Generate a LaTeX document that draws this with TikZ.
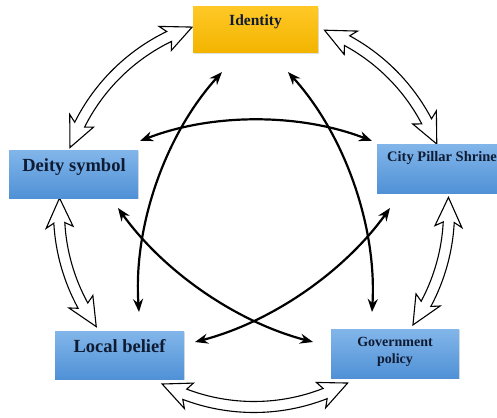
\documentclass[tikz,border=0pt]{standalone}
\usepackage{fontspec}
\setmainfont{Liberation Serif}
\usetikzlibrary{arrows.meta,shadows}
\definecolor{boxtop}{HTML}{82B6EA}
\definecolor{boxbot}{HTML}{5091D6}
\definecolor{idtop}{HTML}{FFC826}
\definecolor{idbot}{HTML}{F3B400}
\definecolor{txtcol}{HTML}{0F1B33}
\newcommand\harrow[2]{%
 \pgfmathsetmacro\hsg{sign(#2-#1)}%
 \pgfmathsetmacro\hba{#1+\hsg*8.6}%
 \pgfmathsetmacro\hna{#1+\hsg*7.3}%
 \pgfmathsetmacro\hbb{#2-\hsg*8.6}%
 \pgfmathsetmacro\hnb{#2-\hsg*7.3}%
 \draw[hollow] (#1:195) -- (\hba:208.5) -- (\hna:200.5) arc[start angle=\hna, end angle=\hnb, radius=200.5] -- (\hbb:208.5) -- (#2:195) -- (\hbb:181.5) -- (\hnb:189.5) arc[start angle=\hnb, end angle=\hna, radius=189.5] -- (\hba:181.5) -- cycle;}
\begin{document}
\begin{tikzpicture}[x=1pt,y=-1pt,
  boxbase/.style={rectangle, inner sep=0pt, drop shadow={opacity=0.25, shadow xshift=1pt, shadow yshift=-1.2pt}},
  bluebox/.style={boxbase, top color=boxtop, bottom color=boxbot},
  yellowbox/.style={boxbase, top color=idtop, bottom color=idbot},
  lbl/.style={font=\bfseries, text=txtcol, anchor=base, inner sep=0pt, align=center},
  blk/.style={line width=2.2pt, {Stealth[length=13pt,width=10pt]}-{Stealth[length=13pt,width=10pt]}},
  hollow/.style={draw=black, line width=1.1pt, fill=white, line join=miter}]
\useasboundingbox (0,0) rectangle (497,417);

% hollow block arrows on the outer circle
\begin{scope}[shift={(254,212)}]
 \harrow{-108.5}{-160.7}
 \harrow{-68.8}{-20.4}
 \harrow{184.1}{144}
 \harrow{-4.3}{35.4}
 \harrow{118.1}{61.3}
\end{scope}

% boxes
\node[yellowbox, minimum width=125pt, minimum height=46pt] (id) at (255.5,30) {};
\node[bluebox, minimum width=129pt, minimum height=48pt] (ds) at (73.5,174) {};
\node[bluebox, minimum width=120pt, minimum height=49pt] (cp) at (437,168.5) {};
\node[bluebox, minimum width=129pt, minimum height=48pt] (lb) at (119.5,355) {};
\node[bluebox, minimum width=128pt, minimum height=49pt] (gp) at (395,353.5) {};

% labels
\node[lbl, font=\bfseries\fontsize{15.5}{18}\selectfont] (idt) at (255.5,26) {Identity};
\node[lbl, font=\bfseries\fontsize{18.5}{21}\selectfont] (dst) at (74,171) {Deity symbol};
\node[lbl, font=\bfseries\fontsize{14.5}{17}\selectfont] (cpt) at (442,161) {City Pillar Shrine};
\node[lbl, font=\bfseries\fontsize{18.5}{21}\selectfont] (lbt) at (119.5,352) {Local belief};
\node[lbl, font=\bfseries\fontsize{14}{17}\selectfont] (gpt) at (395,363) {Government\\policy};

% black double-headed arrows (star)
\coordinate (ds-r) at (140,141);
\coordinate (cp-l) at (372,141);
\coordinate (id-l) at (222,72);
\coordinate (lb-t) at (139,312);
\coordinate (id-r) at (288,72);
\coordinate (gp-t) at (372,312);
\coordinate (ds-b) at (118,208);
\coordinate (gp-l) at (313,342);
\coordinate (cp-b) at (390,208);
\coordinate (lb-r) at (195,342);
\draw[blk] (ds-r) .. controls (212,113) and (300,113) .. (cp-l);
\draw[blk] (id-l) .. controls (165,135) and (133,227) .. (lb-t);
\draw[blk] (id-r) .. controls (345,135) and (377,227) .. (gp-t);
\draw[blk] (ds-b) .. controls (164,272) and (236.5,322) .. (gp-l);
\draw[blk] (cp-b) .. controls (344,272) and (271.5,322) .. (lb-r);
\end{tikzpicture}
\end{document}
